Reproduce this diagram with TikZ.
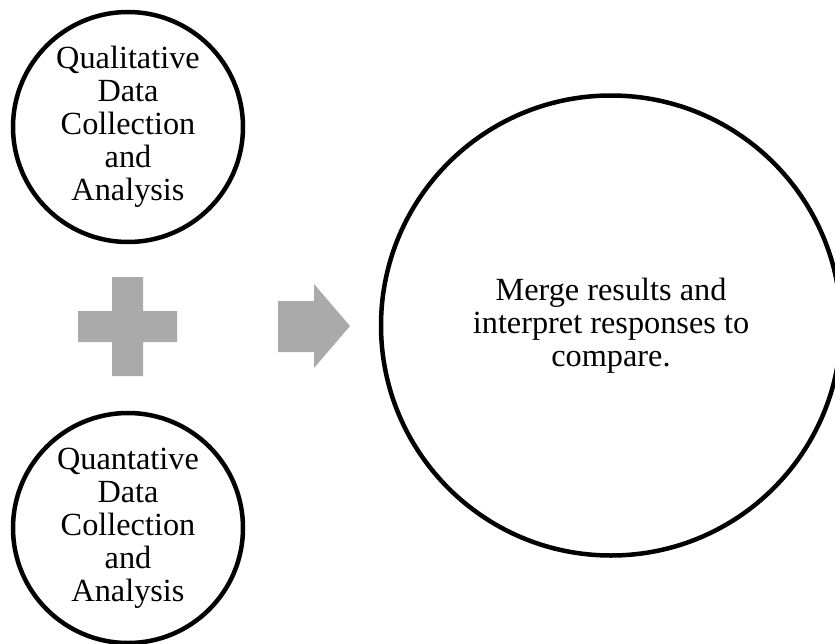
\documentclass[tikz,border=0pt]{standalone}
\usepackage{fontspec}
\setmainfont{Liberation Serif}
\definecolor{shapegray}{RGB}{170,170,170}
\begin{document}
\begin{tikzpicture}[x=1pt,y=-1pt,
  ring/.style={circle,draw=black,line width=4.5pt,inner sep=0pt,align=center,
    font=\fontsize{32.3}{33}\selectfont},
  smallring/.style={ring,minimum size=230pt},
  bigring/.style={ring,minimum size=460pt},
  shapefill/.style={fill=shapegray}]
\useasboundingbox (0,0) rectangle (835,643);
\clip (0,0) rectangle (835,643);
\node[smallring] (qual) at (128,127) {Qualitative\\Data\\Collection\\and\\Analysis};
\node[smallring] (quant) at (128,528) {Quantative\\Data\\Collection\\and\\Analysis};
\node[bigring] (merge) at (611,325.5) {Merge results and\\interpret responses to\\compare.};
% plus sign
\fill[shapefill] (112,277) -- (143,277) -- (143,311) -- (177,311) -- (177,342) -- (143,342)
  -- (143,376) -- (112,376) -- (112,342) -- (78,342) -- (78,311) -- (112,311) -- cycle;
% arrow
\fill[shapefill] (278,301) -- (314,301) -- (314,284) -- (350,326) -- (314,368) -- (314,352)
  -- (278,352) -- cycle;
\end{tikzpicture}
\end{document}
